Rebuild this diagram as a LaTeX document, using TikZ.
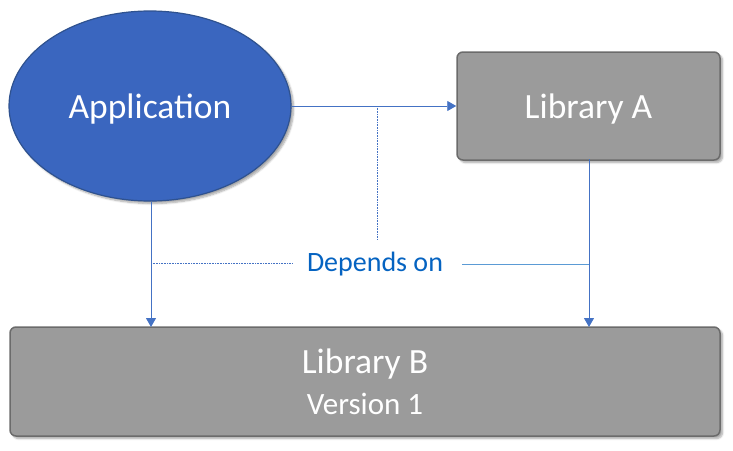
\documentclass[tikz,border=0pt]{standalone}
\usepackage{fontspec}
\setmainfont{Carlito}
\usetikzlibrary{arrows.meta,shadows.blur,shapes.geometric}
\definecolor{appblue}{HTML}{3A66BF}
\definecolor{appedge}{HTML}{2F528F}
\definecolor{libgray}{HTML}{9B9B9B}
\definecolor{libedge}{HTML}{6B6B6B}
\definecolor{linkblue}{HTML}{4472C4}
\definecolor{labelblue}{HTML}{0563C1}
\definecolor{lightlink}{HTML}{5B9BD5}
\tikzset{
  x=1pt, y=-1pt,
  softshadow/.style={blur shadow={shadow xshift=2.5pt, shadow yshift=-2.5pt, shadow blur steps=6, shadow opacity=35}},
  libbox/.style={draw=libedge, line width=1.5pt, fill=libgray, rounded corners=6pt, softshadow, text=white, align=center, inner sep=0pt},
  appnode/.style={ellipse, draw=appedge, line width=1.2pt, fill=appblue, softshadow, text=white, inner sep=0pt},
  link/.style={draw=linkblue, line width=0.9pt, -{Triangle[length=9pt,width=10pt]}},
  hint/.style={draw=linkblue, line width=0.8pt, dash pattern=on 0.8pt off 0.8pt},
  bigtext/.style={font=\fontsize{35.5}{41}\selectfont, text depth=0pt},
}
\begin{document}
\begin{tikzpicture}
\useasboundingbox (0,0) rectangle (733,450);
% components
\node[appnode, minimum width=282pt, minimum height=190pt, bigtext] (app) at (150,106) {Application};
\node[libbox, minimum width=263pt, minimum height=108pt, bigtext] (liba) at (588.5,106) {Library A};
\node[libbox, minimum width=710pt, minimum height=109pt, font=\fontsize{31}{41}\selectfont] (libb) at (365,381.5)
  {\rule{0pt}{0pt}{\fontsize{35.5}{41}\selectfont Library B}\\Version 1};
% dependency label
\node[text=labelblue, font=\fontsize{28}{32}\selectfont, text depth=0pt, inner sep=0pt] (dep) at (375,262) {Depends on};
% connector anchor points
\coordinate (appbot) at (151,202);
\coordinate (libbtl) at (151,327);
\coordinate (libabot) at (589,159);
\coordinate (libbtr) at (589,327);
\coordinate (junctop) at (377,106);
\coordinate (junctbot) at (377,240);
\coordinate (leftj) at (151,263);
\coordinate (leftend) at (293,263);
\coordinate (rightstart) at (462,264);
\coordinate (rightj) at (589,264);
% dependencies
\draw[link] (app.east) -- (liba.west);
\draw[link] (appbot) -- (libbtl);
\draw[link] (libabot) -- (libbtr);
% label leaders
\draw[hint] (junctop) -- (junctbot);
\draw[hint] (leftj) -- (leftend);
\draw[draw=lightlink, line width=0.9pt] (rightstart) -- (rightj);
\end{tikzpicture}
\end{document}
